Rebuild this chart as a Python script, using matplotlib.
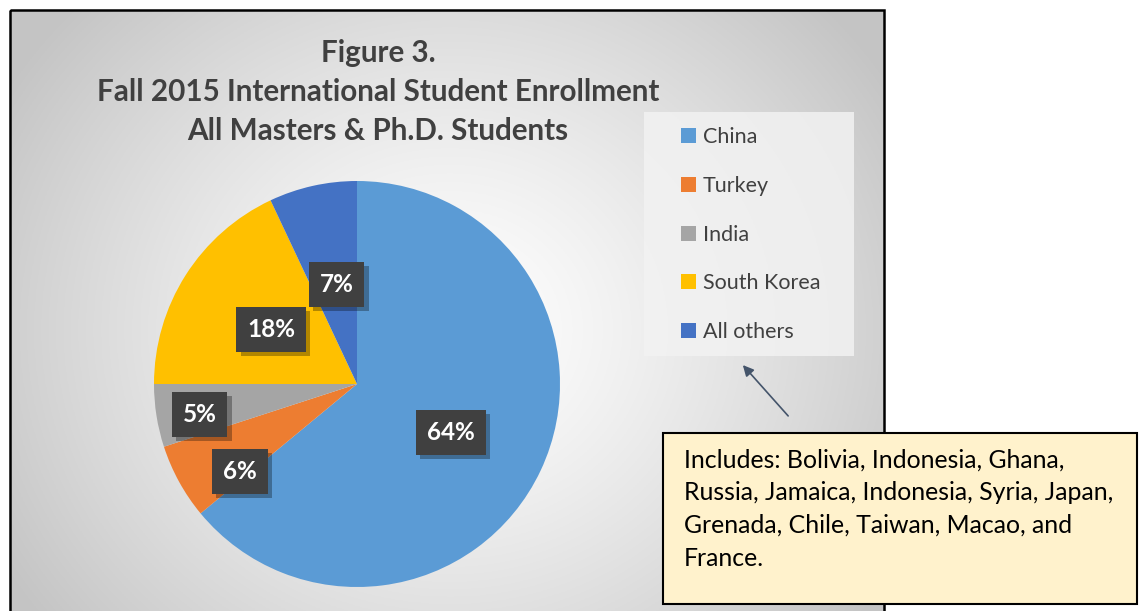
import numpy as np
import matplotlib
matplotlib.use("Agg")
import matplotlib.pyplot as plt
import matplotlib.patheffects as pe
from matplotlib.patches import Rectangle, FancyArrowPatch

# data
countries = ["China", "Turkey", "India", "South Korea", "All others"]
shares = [64, 6, 5, 18, 7]
colors = ["#5B9BD5", "#ED7D31", "#A5A5A5", "#FFC000", "#4472C4"]
label_r = [0.52, 0.72, 0.79, 0.50, 0.50]
label_shift = [-2, 8, 2, 0, -1]

title = "Figure 3.\nFall 2015 International Student Enrollment\nAll Masters & Ph.D. Students"
note = ("Includes: Bolivia, Indonesia, Ghana,\n"
        "Russia, Jamaica, Indonesia, Syria, Japan,\n"
        "Grenada, Chile, Taiwan, Macao, and\n"
        "France.")

W, H = 1139, 611
plt.rcParams["font.family"] = ["Lato", "DejaVu Sans"]
fig = plt.figure(figsize=(W / 100, H / 100), dpi=100)
fig.patch.set_facecolor("white")

# background layer in pixel coordinates
bg = fig.add_axes([0, 0, 1, 1])
bg.set_xlim(0, W)
bg.set_ylim(H, 0)
bg.axis("off")

# radial gradient for chart area
x0, x1, y0, y1 = 10, 884, 10, H + 5
xx, yy = np.meshgrid(np.linspace(x0, x1, 400), np.linspace(y0, y1, 300))
d = np.hypot(xx - 450, (yy - 330) * 1.1)
d = np.clip(d / 520, 0, 1)
gray = 1.0 - 0.23 * d ** 1.3
img = np.dstack([gray, gray, gray])
bg.imshow(img, extent=(x0, x1, y1, y0), aspect="auto", zorder=0)
bg.add_patch(Rectangle((x0, y0), x1 - x0, y1 - y0, fill=False,
                       edgecolor="black", lw=1.8, zorder=1))

bg.text(378, 92, title, ha="center", va="center", fontsize=21.3,
        fontweight="bold", color="#404040", linespacing=1.47, zorder=2)

# legend background
bg.add_patch(Rectangle((644, 112), 210, 244, facecolor="#f2f2f2",
                       edgecolor="none", alpha=0.85, zorder=1))

# arrow pointing at the legend
bg.add_patch(FancyArrowPatch((790, 418), (741, 363), arrowstyle="-|>",
                             mutation_scale=16, color="#44546A", lw=1.2, zorder=3))

# note box
bg.add_patch(Rectangle((663, 433), 474, 171, facecolor="#FFF2CC",
                       edgecolor="black", lw=1.5, zorder=3))
bg.text(684, 449, note, ha="left", va="top", fontsize=17.9, color="black",
        linespacing=1.5, zorder=4)

# pie
R = 203
cx, cy = 357, 384
ax = fig.add_axes([(cx - R) / W, (H - cy - R) / H, 2 * R / W, 2 * R / H])
ax.set_zorder(2)
wedges, _ = ax.pie(shares, colors=colors, startangle=90, counterclock=False,
                   radius=1, wedgeprops=dict(linewidth=0))
ax.set_xlim(-1, 1)
ax.set_ylim(-1, 1)
ax.axis("off")

for w, s, r, sh in zip(wedges, shares, label_r, label_shift):
    ang = np.deg2rad((w.theta1 + w.theta2) / 2 + sh)
    lx, ly = r * np.cos(ang), r * np.sin(ang)
    t = ax.text(lx, ly, f"{s}%", ha="center", va="center", fontsize=17.5,
                fontweight="bold", color="white",
                bbox=dict(boxstyle="square,pad=0.45", facecolor="#404040",
                          edgecolor="none"))
    t.get_bbox_patch().set_path_effects(
        [pe.SimplePatchShadow(offset=(3, -3), shadow_rgbFace="black", alpha=0.3),
         pe.Normal()])

# legend
leg = ax.legend(wedges, countries, loc="upper left",
                bbox_to_anchor=(662 / W, 1 - 108 / H), bbox_transform=fig.transFigure,
                frameon=False, fontsize=15.5, handlelength=0.7, handleheight=0.7,
                handletextpad=0.3, labelspacing=1.33)
for t in leg.get_texts():
    t.set_color("#404040")

fig.savefig("out.png", dpi=100)
